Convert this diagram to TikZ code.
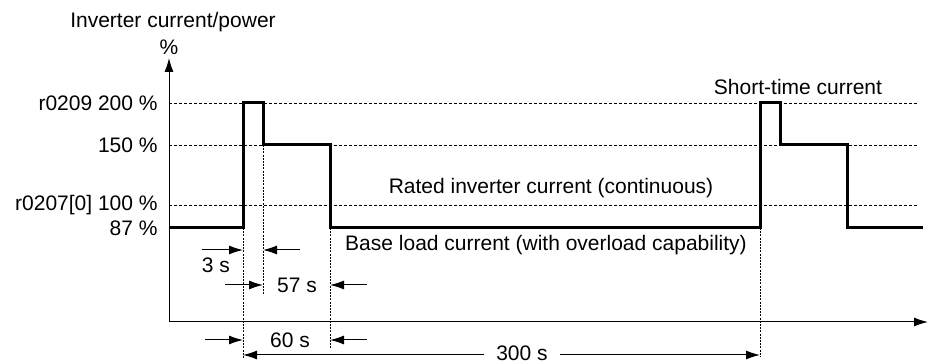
\documentclass[tikz,border=0pt]{standalone}
\usepackage{fontspec}
\setmainfont{Liberation Sans}
\usetikzlibrary{arrows.meta}

\tikzset{
  lbl/.style={font=\fontsize{10.5}{12}\selectfont, inner sep=0pt},
  curve/.style={line width=1.5pt, line join=miter},
  level/.style={line width=0.4pt, dash pattern=on 1.5pt off 1pt},
  guide/.style={line width=0.4pt, dash pattern=on 1pt off 0.6pt},
  dim/.style={line width=0.5pt, ->},
}

\begin{document}
\begin{tikzpicture}[x=0.5pt,y=0.5pt, >={Latex[length=7pt,width=4.5pt]}]
    \useasboundingbox (0,0) rectangle (938,363);

    \coordinate (O) at (169, 41) ;
    \coordinate (Ytop) at (169, 305) ;
    \coordinate (Xend) at (928, 41) ;

    % axes
    \draw[line width=0.5pt, ->] (O) -- (Ytop);
    \draw[line width=0.5pt, ->] (O) -- (Xend);

    % levels
    \draw[level] (169,260) -- (918,260);
    \draw[level] (169,218) -- (918,218);
    \draw[level] (169,158) -- (918,158);

    \node[lbl, anchor=east] (l200) at (158,260) {r0209 200 \%};
    \node[lbl, anchor=east] (l150) at (158,218) {150 \%};
    \node[lbl, anchor=east] (l100) at (158,158) {r0207[0] 100 \%};
    \node[lbl, anchor=east] (l87) at (158,135) {87 \%};

    \node[lbl] (ylabel) at (173,341) {Inverter current/power};
    \node[lbl] (yunit) at (169,316) {\%};

    % guide lines
    \draw[guide] (243,135) -- (243,5);
    \draw[guide] (263,218) -- (263,68);
    \draw[guide] (330,135) -- (330,15);
    \draw[guide] (760,135) -- (760,6);

    % current
    \draw[curve] (169,135) -- (243,135) -- (243,260) -- (263,260) -- (263,218)
        -- (330,218) -- (330,135) -- (760,135) -- (760,260) -- (780,260)
        -- (780,218) -- (847,218) -- (847,135) -- (923,135);

    \node[lbl] (short) at (798,276) {Short-time current};
    \node[lbl] (rated) at (551,175) {Rated inverter current (continuous)};
    \node[lbl] (base) at (546,118) {Base load current (with overload capability)};

    % 3 s
    \draw[dim] (202,113) -- (243,113);
    \draw[dim] (300,113) -- (263,113);
    \node[lbl] (t3) at (216,98) {3 s};

    % 57 s
    \node[lbl] (t57) at (297,78) {57 s};
    \draw[dim] (225,78) -- (263,78);
    \draw[dim] (367,78) -- (330,78);

    % 60 s
    \node[lbl] (t60) at (290,23) {60 s};
    \draw[dim] (205,23) -- (243,23);
    \draw[dim] (367,23) -- (330,23);

    % 300 s
    \node[lbl, inner xsep=6pt] (t300) at (522,10) {300 s};
    \draw[dim] (t300.west |- 0,8) -- (243,8);
    \draw[dim] (t300.east |- 0,8) -- (760,8);

\end{tikzpicture}
\end{document}
